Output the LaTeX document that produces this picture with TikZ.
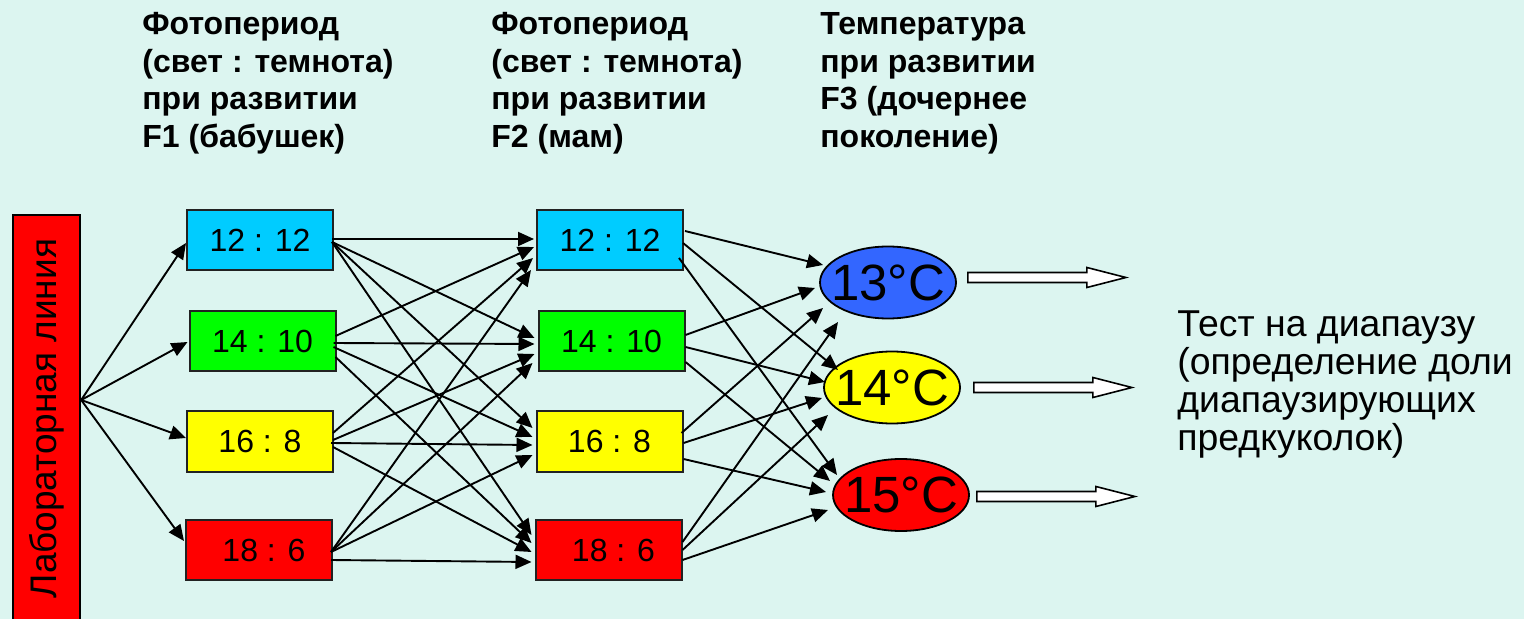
\documentclass[tikz,border=0pt]{standalone}
\usepackage{fontspec}
\setmainfont{Liberation Sans}
\usetikzlibrary{arrows.meta,calc,shapes.geometric}
\definecolor{bgc}{HTML}{DCF5F0}
\definecolor{cyanbox}{HTML}{00CCFF}
\definecolor{greenbox}{HTML}{00FF00}
\definecolor{yellowbox}{HTML}{FFFF00}
\definecolor{redbox}{HTML}{FF0000}
\definecolor{blueell}{HTML}{3366FF}
\definecolor{edgec}{HTML}{222222}
\tikzset{
  pbox/.style={draw=edgec, line width=1pt, minimum width=73pt, minimum height=30pt, inner sep=0pt, font=\fontsize{16}{19}\selectfont},
  tbox/.style={ellipse, draw=black, line width=0.9pt, minimum width=68pt, minimum height=36pt, inner sep=0pt, font=\fontsize{25.5}{30}\selectfont},
  hdr/.style={anchor=base west, inner sep=0pt, font=\bfseries\fontsize{16}{18.75}\selectfont},
  rtext/.style={anchor=base west, inner sep=0pt, font=\fontsize{18.7}{19}\selectfont},
  conn/.style={line width=0.95pt, -{Triangle[length=8pt,width=7pt]}},
  hollow/.style={draw=black, fill=white, line width=0.8pt, line join=miter},
}
\begin{document}
\begin{tikzpicture}[x=0.5pt,y=-0.5pt]
\useasboundingbox (0,0) rectangle (1524,619);
\fill[bgc] (0,0) rectangle (1524,619);

% headers
\node[hdr] (h1) at (142,35) {\vtop{\hbox{Фотопериод}\hbox{(свет : темнота)}\hbox{при развитии}\hbox{F1 (бабушек)}}};
\node[hdr] (h2) at (491,35) {\vtop{\hbox{Фотопериод}\hbox{(свет : темнота)}\hbox{при развитии}\hbox{F2 (мам)}}};
\node[hdr] (h3) at (820,35) {\vtop{\hbox{Температура}\hbox{при развитии}\hbox{F3 (дочернее}\hbox{поколение)}}};

% lab line
\node[draw=black, fill=redbox, line width=1.2pt, minimum width=33.5pt, minimum height=203.5pt, inner sep=0pt] (lab) at (46.5,418.5) {};
\node[rotate=90, inner sep=0pt, font=\fontsize{18.5}{20}\selectfont] (labt) at (lab.center) {Лабораторная линия};

% F1 boxes
\node[pbox, fill=cyanbox] (a1) at (260,240) {12 : 12};
\node[pbox, fill=greenbox] (a2) at (262.5,341) {14 : 10};
\node[pbox, fill=yellowbox] (a3) at (260,441.5) {16 : 8};
\node[pbox, fill=redbox] (a4) at (259,550) {\hspace*{5pt}18 : 6};
% F2 boxes
\node[pbox, fill=cyanbox] (b1) at (610,240) {12 : 12};
\node[pbox, fill=greenbox] (b2) at (611.5,341) {14 : 10};
\node[pbox, fill=yellowbox] (b3) at (609.5,441.5) {16 : 8};
\node[pbox, fill=redbox] (b4) at (608.5,550) {\hspace*{5pt}18 : 6};
% temperatures
\node[tbox, fill=blueell] (e1) at (888,282.5) {\makebox[0pt]{13°C}};
\node[tbox, fill=yellowbox] (e2) at (892,387.5) {\makebox[0pt]{14°C}};
\node[tbox, fill=redbox] (e3) at (901,495) {\makebox[0pt]{15°C}};

% right text
\node[rtext] (res) at (1177,337) {\vtop{\hbox{Тест на диапаузу}\hbox{(определение доли}\hbox{диапаузирующих}\hbox{предкуколок)}}};

% lab -> F1
\draw[conn] ($(lab.east)+(0,-18.5)$) -- ($(a1.west)+(0,3)$);
\draw[conn] ($(lab.east)+(0,-18.5)$) -- ($(a2.west)+(-1,1)$);
\draw[conn] ($(lab.east)+(0,-18.5)$) -- ($(a3.west)+(0,-3.5)$);
\draw[conn] ($(lab.east)+(0,-18.5)$) -- ($(a4.west)+(-1,-9)$);

% F1 -> F2
\draw[conn] ($(a1.east)+(-2,-1)$) -- ($(b1.west)+(-2,-1)$);
\draw[conn] ($(a1.east)+(-2,2)$) -- ($(b2.west)+(-3,-3)$);
\draw[conn] ($(a1.east)+(-2,2)$) -- ($(b3.west)+(-3,-13.5)$);
\draw[conn] ($(a1.east)+(-2,2)$) -- ($(b4.west)+(-3,-15)$);
\draw[conn] ($(a2.east)+(-1,-5)$) -- ($(b1.west)+(-2,7)$);
\draw[conn] ($(a2.east)+(-3,2)$) -- ($(b2.west)+(-3,3)$);
\draw[conn] ($(a2.east)+(-3,6)$) -- ($(b3.west)+(-3,-4.5)$);
\draw[conn] ($(a2.east)+(-1,16)$) -- ($(b4.west)+(-3,-7)$);
\draw[conn] ($(a3.east)+(-1,-8.5)$) -- ($(b1.west)+(-3,18)$);
\draw[conn] ($(a3.east)+(-1,-1.5)$) -- ($(b2.west)+(-3,13)$);
\draw[conn] ($(a3.east)+(-3,1.5)$) -- ($(b3.west)+(-3,3.5)$);
\draw[conn] ($(a3.east)+(-1,5.5)$) -- ($(b4.west)+(-3,2)$);
\draw[conn] ($(a4.east)+(-2,2)$) -- ($(b1.west)+(-5,30)$);
\draw[conn] ($(a4.east)+(-2,2)$) -- ($(b2.west)+(-5,22)$);
\draw[conn] ($(a4.east)+(-2,2)$) -- ($(b3.west)+(-3,13.5)$);
\draw[conn] ($(a4.east)+(-2,10)$) -- ($(b4.west)+(-3,12)$);

% F2 -> temperatures
\draw[conn] ($(b1.east)+(1,-9)$) -- ($(e1.center)+(-65,-17.5)$);
\draw[conn] ($(b1.east)+(-1,3)$) -- ($(e2.center)+(-54,-17.5)$);
\draw[conn] ($(b1.east)+(-5,18)$) -- ($(e3.center)+(-64,-20)$);
\draw[conn] ($(b2.east)+(0,-6)$) -- ($(e1.center)+(-73,5.5)$);
\draw[conn] ($(b2.east)+(0,6)$) -- ($(e2.center)+(-67,-5.5)$);
\draw[conn] ($(b2.east)+(0,21)$) -- ($(e3.center)+(-71,-14)$);
\draw[conn] ($(b3.east)+(-2,-8.5)$) -- ($(e1.center)+(-65,25.5)$);
\draw[conn] ($(b3.east)+(0,1.5)$) -- ($(e2.center)+(-70,10.5)$);
\draw[conn] ($(b3.east)+(0,17.5)$) -- ($(e3.center)+(-75,-3)$);
\draw[conn] ($(b4.east)+(0,-8)$) -- ($(e1.center)+(-50,39.5)$);
\draw[conn] ($(b4.east)+(0,0)$) -- ($(e2.center)+(-64,27.5)$);
\draw[conn] ($(b4.east)+(0,10)$) -- ($(e3.center)+(-73,15)$);

% hollow arrows
\coordinate (t1) at ($(e1.east)+(11,-5)$);
\coordinate (t2) at ($(e2.east)+(13,0)$);
\coordinate (t3) at ($(e3.east)+(7,1.5)$);
\foreach \t in {t1,t2,t3}{
  \draw[hollow] (\t) ++(0,-5) -- ++(119,0) -- ++(0,-5) -- ++(39,10) -- ++(-39,10) -- ++(0,-5) -- ++(-119,0) -- cycle;
}
\end{tikzpicture}
\end{document}
